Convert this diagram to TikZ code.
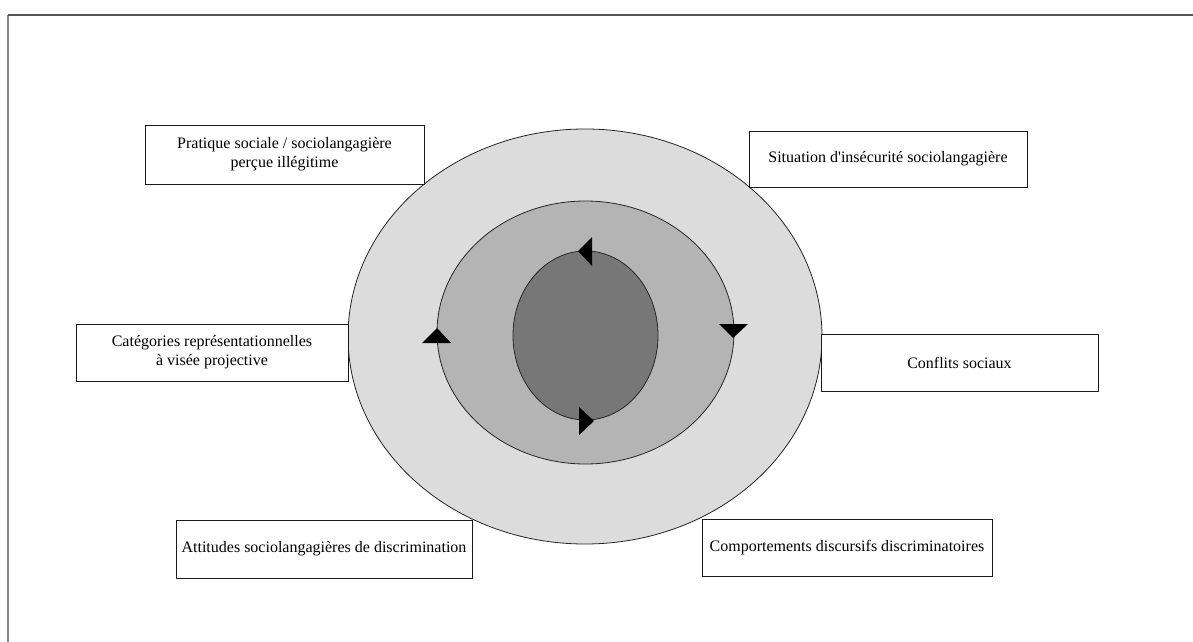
\documentclass[tikz,border=0pt]{standalone}
\usepackage{fontspec}
\setmainfont{Liberation Serif}
\usetikzlibrary{shapes.geometric}
\definecolor{outerfill}{HTML}{DCDCDC}
\definecolor{midfill}{HTML}{B4B4B4}
\definecolor{innerfill}{HTML}{777777}
\definecolor{frametop}{HTML}{555555}
\definecolor{frameleft}{HTML}{888888}
\begin{document}
\begin{tikzpicture}[x=0.75pt,y=-0.75pt,
  ring/.style={ellipse,draw=black!85,line width=0.6pt,inner sep=0pt,outer sep=0pt},
  labelbox/.style={rectangle,draw=black!90,fill=white,line width=0.7pt,align=center,
    inner sep=0pt,font=\fontsize{12pt}{14.4pt}\selectfont},
  tip/.style={fill=black,draw=none}]
\useasboundingbox (0,0) rectangle (1193,642);
\fill[white] (0,0) rectangle (1193,642);
% frame
\coordinate (fbl) at (8,642);
\coordinate (ftl) at (8,15);
\coordinate (ftr) at (1193,15);
\draw[frameleft,line width=1.5pt] (fbl) -- (ftl);
\draw[frametop,line width=1.5pt] (ftl) -- (ftr);
% ellipses
\node[ring,fill=outerfill,minimum width=355.5pt,minimum height=311.25pt] (outer) at (585,336.5) {};
\node[ring,fill=midfill,minimum width=222.75pt,minimum height=197.25pt] (middle) at (585.5,332.5) {};
\node[ring,fill=innerfill,minimum width=108.75pt,minimum height=126.75pt] (inner) at (585.5,335.5) {};
% arrowheads
\fill[tip] (578,251) -- (592,237) -- (592,266) -- cycle;
\fill[tip] (594,421) -- (579,407) -- (579,435) -- cycle;
\fill[tip] (437,328) -- (422,343) -- (451,343) -- cycle;
\fill[tip] (733,338) -- (719,324) -- (748,324) -- cycle;
% boxes
\node[labelbox,minimum width=209.25pt,minimum height=44.25pt] (pratique) at (284.5,154.5)
  {Pratique sociale / sociolangagière\\perçue illégitime};
\node[labelbox,minimum width=208.5pt,minimum height=42pt] (situation) at (888,159)
  {Situation d\textquotesingle insécurité sociolangagière};
\node[labelbox,minimum width=204pt,minimum height=42.75pt] (categories) at (212,352.5)
  {Catégories représentationnelles\\à visée projective};
\node[labelbox,minimum width=207.75pt,minimum height=42.75pt] (conflits) at (959.5,362.5)
  {Conflits sociaux};
\node[labelbox,minimum width=222pt,minimum height=43.5pt] (attitudes) at (324,549)
  {Attitudes sociolangagières de discrimination};
\node[labelbox,minimum width=217.5pt,minimum height=42.75pt] (comportements) at (847,547.5)
  {Comportements discursifs discriminatoires};
\end{tikzpicture}
\end{document}
